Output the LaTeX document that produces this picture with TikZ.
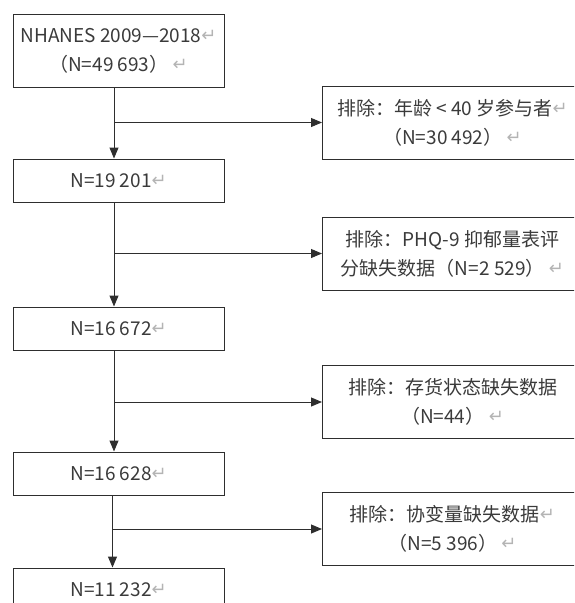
\documentclass[tikz,border=0pt]{standalone}
\usepackage{fontspec}
\setmainfont{Noto Sans CJK SC}
\newfontfamily\markfont{DejaVu Sans}
\usetikzlibrary{positioning,arrows.meta}
\definecolor{textgray}{HTML}{3A3A3A}
\definecolor{boxgray}{HTML}{2E2E2E}
\definecolor{markgray}{HTML}{B4B4B4}
\newcommand{\pmark}{{\markfont\fontsize{18}{18}\selectfont\color{markgray}\raisebox{1pt}{↵}}}

\begin{document}
\begin{tikzpicture}[x=1pt,y=-1pt,>={Triangle[length=11pt,width=9pt]},
    flowbox/.style={draw=boxgray,line width=1pt,text=textgray,minimum width=211pt,
      minimum height=43pt,align=center,inner sep=2pt,font=\fontsize{19}{29}\selectfont},
    exclbox/.style={flowbox,minimum width=260pt,minimum height=73pt,anchor=west},
    link/.style={line width=1pt,draw=boxgray}]

        \useasboundingbox (0,0) rectangle (574,603);
        \clip (0,0) rectangle (574,603);

        \node[flowbox,minimum height=73pt] (N0) at (118.5,50.5)  {NHANES 2009—2018\pmark\\（N=49 693） \pmark};
        \node[flowbox]  (N1) [below=71pt of N0]   {N=19 201\pmark};
        \node[flowbox]  (N2) [below=104pt of N1]  {N=16 672\pmark};
        \node[flowbox]  (N3) [below=101pt of N2]  {N=16 628\pmark};
        \node[flowbox]  (N4) [below=72pt of N3]   {N=11 232\pmark};

        \node[exclbox]  (E1) at (322,122.5) {排除：年龄 < 40 岁参与者\pmark\\（N=30 492） \pmark};
        \node[exclbox]  (E2) at (322,253.5) {排除：PHQ-9 抑郁量表评\\分缺失数据（N=2 529） \pmark};
        \node[exclbox]  (E3) at (322,402)   {排除：存货状态缺失数据\\（N=44） \pmark};
        \node[exclbox]  (E4) at (322,529)   {排除：协变量缺失数据\pmark\\（N=5 396） \pmark};

        \coordinate (J1) at ([xshift=-4.5pt]N0.south |- E1.west);
        \coordinate (J2) at ([xshift=-4.5pt]N1.south |- E2.west);
        \coordinate (J3) at ([xshift=-4.5pt]N2.south |- E3.west);
        \coordinate (J4) at ([xshift=-6pt]N3.south |- E4.west);

        \draw[link,->] ([xshift=-4.5pt]N0.south) -- ([xshift=-4.5pt]N1.north);
        \draw[link,->] ([xshift=-4.5pt]N1.south) -- ([xshift=-4.5pt]N2.north);
        \draw[link,->] ([xshift=-4.5pt]N2.south) -- ([xshift=-4.5pt]N3.north);
        \draw[link,->] ([xshift=-6pt]N3.south) -- ([xshift=-6pt]N4.north);
        \draw[link,->] (J1) -- (E1);
        \draw[link,->] (J2) -- (E2);
        \draw[link,->] (J3) -- (E3);
        \draw[link,->] (J4) -- (E4);
      \end{tikzpicture}
\end{document}
